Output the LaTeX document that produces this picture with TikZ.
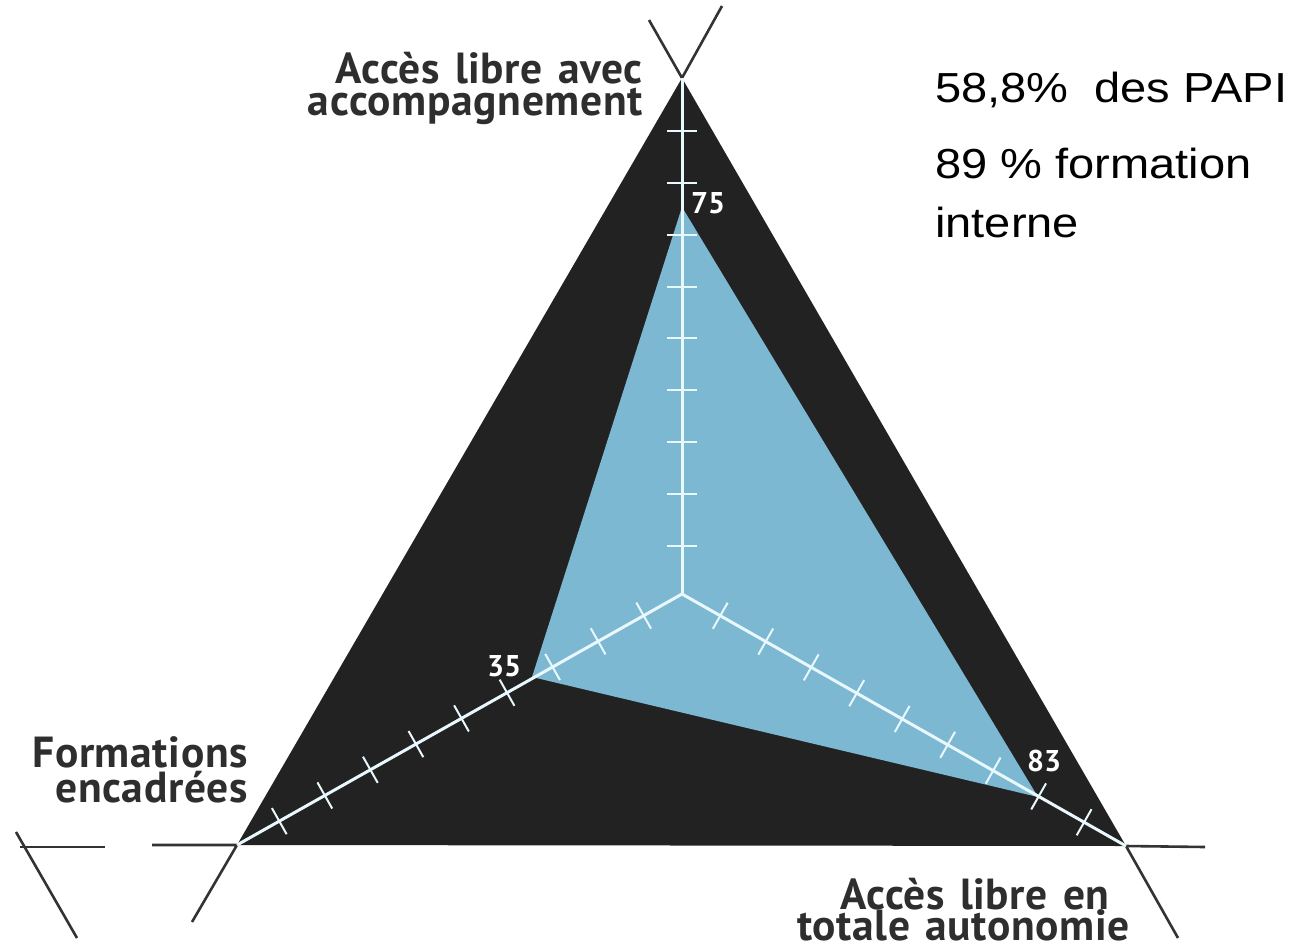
\documentclass[tikz,border=0pt]{standalone}
\usepackage{fontspec}
\usetikzlibrary{calc}
\newfontfamily\labfont[WordSpace=1.3,LetterSpace=1.5]{PT Sans}
\newfontfamily\numfont{PT Sans}
\newfontfamily\arialfont{Liberation Sans}
\definecolor{tri}{HTML}{222222}
\definecolor{bluefill}{RGB}{125,184,210}
\definecolor{extcol}{HTML}{333333}
\definecolor{labcol}{HTML}{2E2E2E}
\definecolor{axiscol}{HTML}{E8F8FD}
\begin{document}
\begin{tikzpicture}[x=1pt,y=-1pt,
  extline/.style={draw=extcol,line width=2.6pt},
  axisline/.style={draw=axiscol,line width=3pt},
  tickline/.style={draw=axiscol,line width=2pt},
  lab/.style={font=\labfont\bfseries\fontsize{43.5}{44}\selectfont,text=labcol,inner sep=0pt},
  num/.style={font=\numfont\bfseries\fontsize{30}{30}\selectfont,text=white,inner sep=0pt,anchor=base west},
  rt/.style={font=\arialfont\fontsize{42}{42}\selectfont,text=black,inner sep=0pt,anchor=base west}]
\useasboundingbox (0,0) rectangle (1301,948);
\fill[white] (0,0) rectangle (1301,948);
% main points
\coordinate (T) at (682,78);
\coordinate (L) at (237,845);
\coordinate (R) at (1126,846);
\coordinate (C) at (682,594);
\coordinate (B1) at (682,207);
\coordinate (B2) at (532,677);
\coordinate (B3) at (1038,797);
% extension ends
\coordinate (Ta) at (649,20);
\coordinate (Tb) at (722,6);
\coordinate (La) at (152,845);
\coordinate (Lb) at (192,922);
\coordinate (Ra) at (1205,847);
\coordinate (Rb) at (1178,938);
\coordinate (Xa) at (20,847);
\coordinate (Xb) at (105,847);
\coordinate (Xc) at (16,832);
\coordinate (Xd) at (77,938);
% triangle and data polygon
\fill[tri] (T) -- (L) -- (R) -- cycle;
\fill[bluefill] (B1) -- (B2) -- (B3) -- cycle;
% extension lines
\draw[extline] (Ta) -- (T) -- (Tb);
\draw[extline] (La) -- (L) -- (Lb);
\draw[extline] (Ra) -- (R) -- (Rb);
\draw[extline] (Xa) -- (Xb);
\draw[extline] (Xc) -- (Xd);
% axes
\draw[axisline] (C) -- (T);
\draw[axisline] (C) -- (L);
\draw[axisline] (C) -- (R);
\foreach \k in {0,...,8}{
  \pgfmathsetmacro{\dv}{48+51.9*\k}
  \pgfmathsetmacro{\ds}{44+52.3*\k}
  \draw[tickline] ($(C)!\dv pt!(T)!15pt!90:(T)$) -- ($(C)!\dv pt!(T)!15pt!-90:(T)$);
  \draw[tickline] ($(C)!\ds pt!(L)!15pt!90:(L)$) -- ($(C)!\ds pt!(L)!15pt!-90:(L)$);
  \draw[tickline] ($(C)!\ds pt!(R)!15pt!90:(R)$) -- ($(C)!\ds pt!(R)!15pt!-90:(R)$);
}
% values
\node[num] (n75) at (691,213) {75};
\node[num] (n35) at (487,676) {35};
\node[num] (n83) at (1027,771) {83};
% axis labels
\node[lab,anchor=base east] (la1) at (643,83) {Accès libre avec};
\node[lab,anchor=base east] (la2) at (643,115) {accompagnement};
\node[lab,anchor=base east] (lb1) at (248,767) {Formations};
\node[lab,anchor=base east] (lb2) at (248,802) {encadrées};
\node[lab,anchor=base west] (lc1) at (840,909) {Accès libre en};
\node[lab,anchor=base west] (lc2) at (797,940) {totale autonomie};
% right text
\node[rt] (p1) at (935,102) {\scalebox{1.12}[1]{58,8\%~ des PAPI}};
\node[rt] (p2) at (935,178) {\scalebox{1.12}[1]{89 \% formation}};
\node[rt] (p3) at (935,237) {\scalebox{1.12}[1]{interne}};
\end{tikzpicture}
\end{document}
